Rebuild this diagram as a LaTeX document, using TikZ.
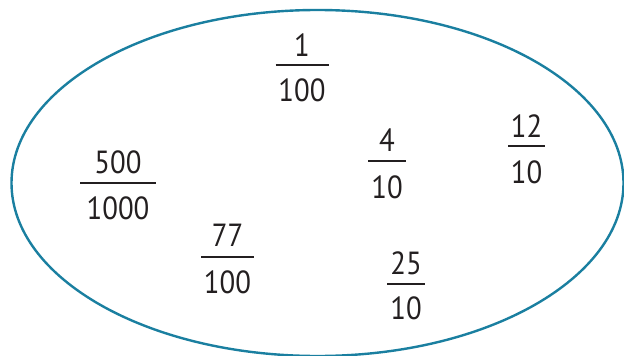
\documentclass[tikz,border=0pt]{standalone}
\usepackage{fontspec}
\setmainfont{PT Sans}
\usetikzlibrary{shapes.geometric}
\definecolor{rim}{HTML}{1A7FA0}
\definecolor{ink}{HTML}{231F20}
\newcommand{\fracnode}[8]{%
  \node[digits] (#1n) at (#2,#3) {#7};
  \node[digits] (#1d) at (#2,#5) {#8};
  \draw[fracbar] (#2-#6,#4) coordinate (#1l) -- (#2+#6,#4) coordinate (#1r);
}
\begin{document}
\begin{tikzpicture}[x=1pt,y=-1pt,
  digits/.style={inner sep=0pt, font=\addfontfeature{FakeStretch=0.9}\fontsize{32}{33}\selectfont, text=ink, anchor=center},
  fracbar/.style={draw=ink, line width=2.8pt},
  rimline/.style={draw=rim, line width=2.4pt}]
\useasboundingbox (0,0) rectangle (624,356);
\node[ellipse, rimline, minimum width=612pt, minimum height=346pt, inner sep=0pt] (oval) at (317.5,183) {};
\fracnode{a}{302}{45}{65}{90}{26.5}{1}{100}
\fracnode{b}{118}{162}{183}{208}{38}{500}{1000}
\fracnode{c}{387}{140}{161}{187}{19}{4}{10}
\fracnode{e}{526.5}{126}{146}{172}{18.5}{12}{10}
\fracnode{f}{227.5}{235}{257}{282}{26.5}{77}{100}
\fracnode{g}{406}{263}{284}{308}{19}{25}{10}
\end{tikzpicture}
\end{document}
